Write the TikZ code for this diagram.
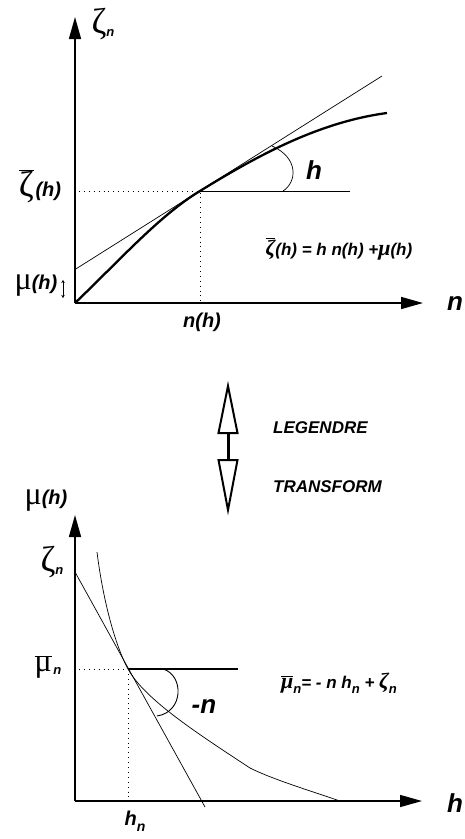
\documentclass[tikz,border=0pt]{standalone}
\usepackage{fontspec}
\setmainfont{Liberation Sans}
\newfontfamily\gr{Liberation Serif}
\usetikzlibrary{arrows.meta}
\newcommand\bi{\bfseries\itshape}
\newcommand\fs[1]{\fontsize{#1}{#1}\selectfont}
\newcommand\ob[1]{$\overline{\hbox{#1}}$}
\newcommand\sbn[2][13]{\raisebox{-0.3em}{\fs{#1}\bi #2}}
\begin{document}
\begin{tikzpicture}[x=1pt,y=-1pt,
  axis/.style={line width=1.5pt,-{Triangle[length=22pt,width=12pt]}},
  thinl/.style={line width=0.7pt},
  dots/.style={line width=0.9pt,dash pattern=on 0.9pt off 4pt},
  thick curve/.style={line width=2.3pt},
  openarrow/.style={line width=2pt,line join=miter},
  lbl/.style={inner sep=0pt},
  big/.style={lbl,font=\fs{26}\bi},
  mid/.style={lbl,font=\fs{20}\bi},
  small/.style={lbl,font=\fs{17}\bi},
  word/.style={lbl,font=\fs{17}\bi,anchor=west}]
\useasboundingbox (0,0) rectangle (465,839);
% ---------- top plot ----------
\coordinate (O1) at (75,303);
\coordinate (Y1) at (75,17);
\coordinate (X1) at (423,303);
\coordinate (T1) at (200,191);
\coordinate (L1a) at (75,269.5);
\coordinate (L1b) at (382,76);
\coordinate (H1) at (350,191);
\coordinate (D1a) at (79,191);
\coordinate (D1b) at (200,303);
\coordinate (C1e) at (387,113);
\coordinate (A1s) at (283,191);
\coordinate (A1e) at (272,146);
\coordinate (M1a) at (63,280);
\coordinate (M1b) at (63,298);
\draw[axis] (O1) -- (Y1);
\draw[axis] (O1) -- (X1);
\draw[thinl] (L1a) -- (L1b);
\draw[dots] (D1a) -- (T1) -- (D1b);
\draw[thinl] (T1) -- (H1);
\draw[thick curve] (O1) .. controls (120,260) and (160,215) .. (T1)
   .. controls (260,154) and (320,122) .. (C1e);
\draw[thinl] (A1s) .. controls (297,182) and (299,158) .. (A1e);
\draw[{Stealth[length=3pt,width=3.5pt]}-{Stealth[length=3pt,width=3.5pt]},line width=0.6pt] (M1a) -- (M1b);
\node[lbl] (zn) at (103,24) {{\fs{36}\gr ζ}\sbn{n}};
\node[lbl] (zbar) at (40,186) {{\fs{36}\ob{\gr ζ}}\,{\fs{20}\bi (h)}};
\node[lbl] (muh) at (36,286) {{\fs{32}\gr μ}{\fs{20}\bi (h)}};
\node[big] (hang) at (314,170) {h};
\node[small] (f1) at (339,249) {{\fs{22}\ob{\gr ζ}}(h) = h n(h) +{\fs{22}\gr μ}(h)};
\node[mid] (nh) at (202,322) {n(h)};
\node[big,anchor=west] (nax) at (447,304) {n};
% ---------- Legendre arrow ----------
\coordinate (U1) at (228,386);
\coordinate (U2) at (237.5,433);
\coordinate (U3) at (218.5,433);
\coordinate (S1) at (228,433);
\coordinate (S2) at (228,460);
\coordinate (V1) at (218.5,460);
\coordinate (V2) at (237.5,460);
\coordinate (V3) at (228,510);
\draw[openarrow] (U1) -- (U2) -- (U3) -- cycle;
\draw[line width=3pt] (S1) -- (S2);
\draw[openarrow] (V1) -- (V2) -- (V3) -- cycle;
\node[word] (leg) at (273,428) {LEGENDRE};
\node[word] (tra) at (273,487) {TRANSFORM};
% ---------- bottom plot ----------
\coordinate (O2) at (75,801);
\coordinate (Y2) at (75,515);
\coordinate (X2) at (422,801);
\coordinate (T2) at (128,669);
\coordinate (L2a) at (75,572);
\coordinate (L2b) at (205,807);
\coordinate (H2) at (238,669);
\coordinate (D2a) at (79,669);
\coordinate (D2b) at (128,801);
\coordinate (C2s) at (97,552);
\coordinate (C2m) at (250,768);
\coordinate (C2e) at (340,801);
\coordinate (A2s) at (163,669);
\coordinate (A2e) at (157,716);
\draw[axis] (O2) -- (Y2);
\draw[axis] (O2) -- (X2);
\draw[thinl] (L2a) -- (L2b);
\draw[dots] (D2a) -- (T2) -- (D2b);
\draw[line width=1.2pt] (T2) -- (H2);
\draw[thinl] (C2s) .. controls (103,600) and (115,645) .. (T2)
   .. controls (145,700) and (200,735) .. (C2m)
   .. controls (272,779) and (305,789) .. (C2e);
\draw[line width=0.9pt] (A2s) .. controls (184,675) and (184,712) .. (A2e);
\node[lbl] (mu2) at (46,501) {{\fs{32}\gr μ}{\fs{20}\bi (h)}};
\node[lbl] (zn2) at (52,562) {{\fs{36}\gr ζ}\sbn{n}};
\node[lbl] (mub) at (48,667) {{\fs{32}\ob{\gr μ}}\,\sbn{n}};
\node[big] (mn) at (204,707) {-n};
\node[mid] (hn) at (135,821) {h\sbn[14]{n}};
\node[big,anchor=west] (hax) at (447,803) {h};
\node[small] (f2) at (339,683) {{\fs{22}\ob{\gr μ}}\sbn{n}= - n h\sbn{n} + {\fs{22}\gr ζ}\sbn{n}};
\end{tikzpicture}
\end{document}
